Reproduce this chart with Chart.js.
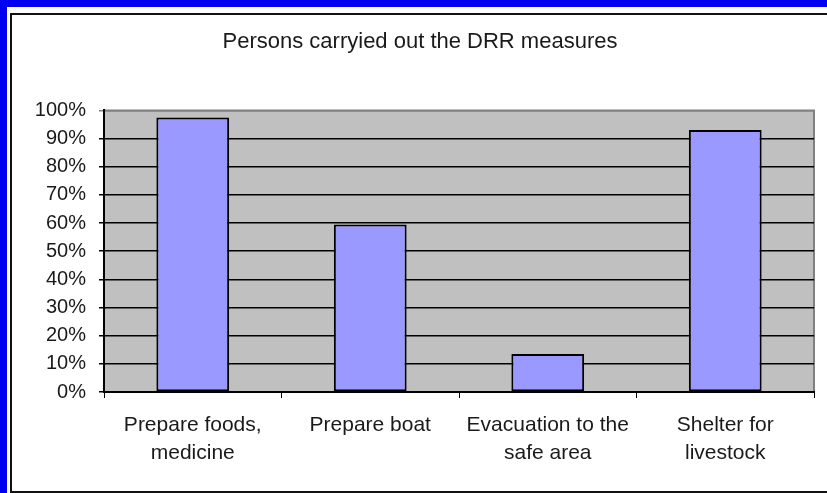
<!DOCTYPE html>
<html lang="en">
<head>
<meta charset="UTF-8">
<title>Persons carryied out the DRR measures</title>
<script src="https://cdn.jsdelivr.net/npm/chart.js"></script>
<style>
    html, body { margin: 0; padding: 0; background: #fff; overflow: hidden; }
    #page { position: relative; width: 827px; height: 493px; background: #0000f0; overflow: hidden; }
    #inner { position: absolute; left: 7px; top: 7px; width: 830px; height: 490px; background: #fff; }
    #frame { position: absolute; left: 10px; top: 13px; width: 830px; height: 476px; border: 2px solid #111; box-sizing: content-box; }
    #wrap { position: absolute; left: 0; top: 0; width: 827px; height: 493px; }
</style>
</head>
<body>
<div id="page">
    <div id="inner"></div>
    <div id="frame"></div>
    <div id="wrap"><canvas id="grafico"></canvas></div>
</div>
<script>
    // dados do grafico
    const categorias = [
        ['Prepare foods,', 'medicine'],
        ['Prepare boat'],
        ['Evacuation to the', 'safe area'],
        ['Shelter for', 'livestock']
    ];
    const valores = [97.5, 59.5, 13.5, 93];
    const ticksY = [0, 10, 20, 30, 40, 50, 60, 70, 80, 90, 100];

    // fundo cinza da area do grafico + borda
    const fundoArea = {
        id: 'fundoArea',
        beforeDraw(chart) {
            const { ctx, chartArea: a } = chart;
            ctx.save();
            ctx.fillStyle = '#c0c0c0';
            ctx.fillRect(a.left, a.top, a.right - a.left, a.bottom - a.top);
            ctx.strokeStyle = '#808080';
            ctx.lineWidth = 2;
            ctx.beginPath();
            ctx.moveTo(a.left, a.top);
            ctx.lineTo(a.right, a.top);
            ctx.lineTo(a.right, a.bottom);
            ctx.stroke();
            ctx.restore();
        }
    };

    const fonte = 'Liberation Sans, Arial, sans-serif';

    const config = {
        type: 'bar',
        data: {
            labels: categorias,
            datasets: [{
                data: valores,
                backgroundColor: '#9999ff',
                borderColor: '#000',
                borderWidth: 2,
                borderSkipped: false,
                categoryPercentage: 1,
                barPercentage: 0.41
            }]
        },
        options: {
            responsive: false,
            animation: false,
            devicePixelRatio: 1,
            layout: { padding: { left: 13, right: 0, top: 0, bottom: 0 } },
            plugins: {
                legend: { display: false },
                tooltip: { enabled: false },
                title: {
                    display: true,
                    text: 'Persons carryied out the DRR measures',
                    color: '#1a1a1a',
                    font: { family: fonte, size: 22, weight: 'normal', lineHeight: 1.2 },
                    padding: { top: 29, bottom: 55 }
                }
            },
            scales: {
                x: {
                    grid: { drawOnChartArea: false, offset: true, tickLength: 6, color: '#000', lineWidth: 1 },
                    border: { color: '#000', width: 2 },
                    ticks: {
                        color: '#1a1a1a',
                        padding: 13,
                        maxRotation: 0,
                        autoSkip: false,
                        font: { family: fonte, size: 21, lineHeight: 1.33 }
                    },
                    afterFit(scale) { scale.height = 101; }
                },
                y: {
                    min: 0,
                    max: 100,
                    afterBuildTicks(scale) { scale.ticks = ticksY.map(v => ({ value: v })); },
                    grid: {
                        tickLength: 5,
                        lineWidth: 1.5,
                        color: ctx => (ctx.tick && ctx.tick.value === 100) ? '#808080' : '#000'
                    },
                    border: { color: '#000', width: 2 },
                    ticks: {
                        color: '#1a1a1a',
                        padding: 13,
                        font: { family: fonte, size: 20 },
                        callback: v => v + '%'
                    },
                    afterFit(scale) { scale.width = 91; }
                },
                // eixo vazio a direita, so para reservar espaco
                margem: {
                    position: 'right',
                    display: true,
                    grid: { display: false, drawTicks: false },
                    border: { display: false },
                    ticks: { display: false },
                    afterFit(scale) { scale.width = 13; }
                }
            }
        },
        plugins: [fundoArea]
    };

    const canvas = document.getElementById('grafico');
    canvas.width = 827;
    canvas.height = 493;
    new Chart(canvas, config);
</script>
</body>
</html>
